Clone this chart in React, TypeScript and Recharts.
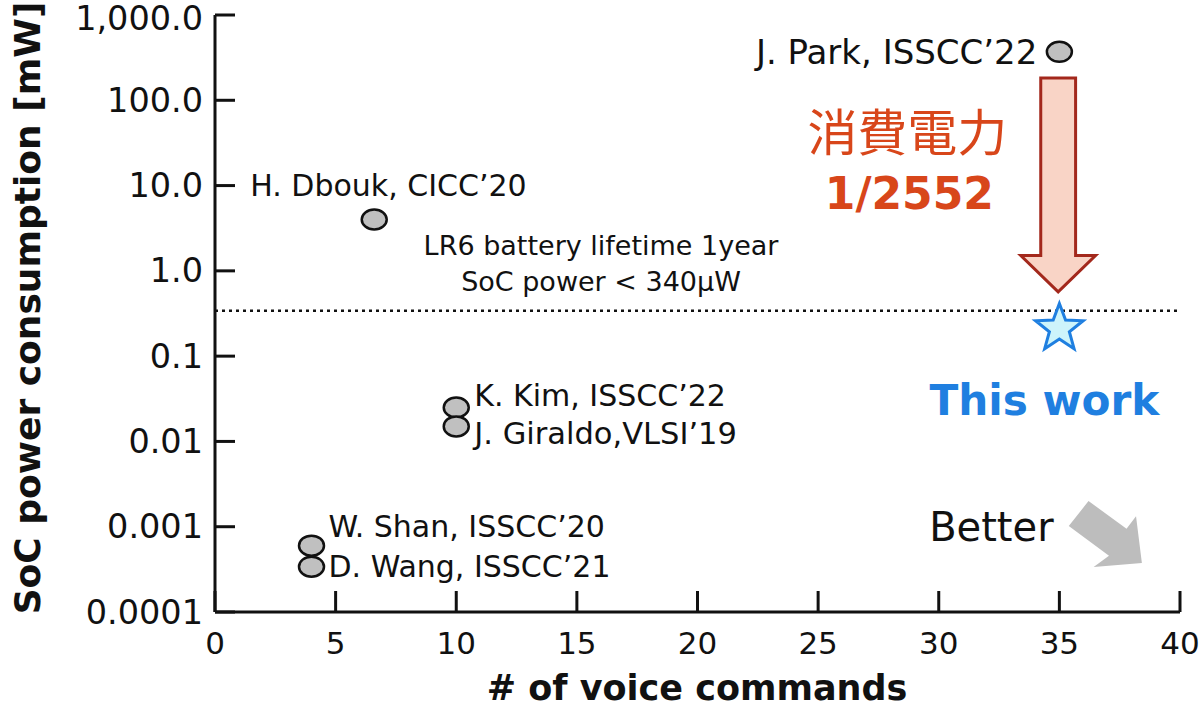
import React from 'react';
import {
  ScatterChart,
  Scatter,
  XAxis,
  YAxis,
  ReferenceLine,
  ReferenceArea,
  ReferenceDot,
} from 'recharts';

// prior works
const refNames = [
  'J. Park, ISSCC’22',
  'H. Dbouk, CICC’20',
  'K. Kim, ISSCC’22',
  'J. Giraldo,VLSI’19',
  'W. Shan, ISSCC’20',
  'D. Wang, ISSCC’21',
];
const refCommands = [35, 6.6, 10, 10, 4, 4];
const refPower = [370, 4.0, 0.025, 0.015, 0.0006, 0.00034];

// this work
const thisCommands = [35];
const thisPower = [0.2];

const batteryLimit = 0.34;

const xTicks = [0, 5, 10, 15, 20, 25, 30, 35, 40];
const yTicks = [0.0001, 0.001, 0.01, 0.1, 1, 10, 100, 1000];
const yTickLabels = ['0.0001', '0.001', '0.01', '0.1', '1.0', '10.0', '100.0', '1,000.0'];

// label placement relative to each marker (px)
const labelStyle = [
  { dx: -22, dy: 0, anchor: 'end', size: 34 },
  { dx: -124, dy: -34, anchor: 'start', size: 30 },
  { dx: 18, dy: -12, anchor: 'start', size: 30 },
  { dx: 18, dy: 7, anchor: 'start', size: 30.5 },
  { dx: 17, dy: -19, anchor: 'start', size: 30 },
  { dx: 17, dy: 0, anchor: 'start', size: 30 },
];

const refData = refNames.map((name, i) => ({ name, x: refCommands[i], y: refPower[i] }));
const thisData = thisCommands.map((x, i) => ({ x, y: thisPower[i] }));

const FONT = '"DejaVu Sans", Verdana, sans-serif';
const INK = '#111';

const Ellipse = (props: any) => (
  <ellipse cx={props.cx} cy={props.cy} rx={12.5} ry={10} fill="#c0c0c0" stroke={INK} strokeWidth={2.5} />
);

const Star = (props: any) => {
  const cx = Number(props.cx);
  const cy = Number(props.cy);
  const pts: string[] = [];
  for (let i = 0; i < 10; i++) {
    const r = i % 2 === 0 ? 25 : 10.5;
    const a = -Math.PI / 2 + (i * Math.PI) / 5;
    pts.push(`${cx + r * Math.cos(a)},${cy - 2 + r * Math.sin(a)}`);
  }
  return <polygon points={pts.join(' ')} fill="#cdf4fb" stroke="#1f7fe0" strokeWidth={3} />;
};

const XTick = (props: any) => {
  const x = Number(props.x);
  const y = Number(props.y);
  return (
    <g>
      <line x1={x} y1={y} x2={x} y2={y - 21} stroke={INK} strokeWidth={3} />
      <text x={x} y={y + 31} textAnchor="middle" dominantBaseline="central" fontSize={31} fill={INK} fontFamily={FONT}>
        {props.payload.value}
      </text>
    </g>
  );
};

const YTick = (props: any) => {
  const x = Number(props.x);
  const y = Number(props.y);
  const idx = yTicks.indexOf(props.payload.value);
  const top = idx === yTicks.length - 1;
  return (
    <g>
      <line x1={x} y1={y} x2={x + 20} y2={y} stroke={INK} strokeWidth={3} />
      <text x={x - 12} y={top ? y + 3 : y} textAnchor="end" dominantBaseline="central" fontSize={33.5} fill={INK} fontFamily={FONT}>
        {idx >= 0 ? yTickLabels[idx] : props.payload.value}
      </text>
    </g>
  );
};

const BigArrow = (props: any) => {
  const x = Number(props.x);
  const y = Number(props.y);
  const width = Number(props.width);
  const height = Number(props.height);
  const shaftL = x + width * 0.267;
  const shaftR = x + width * 0.733;
  const headY = y + height * 0.83;
  const pts = [
    [shaftL, y],
    [shaftR, y],
    [shaftR, headY],
    [x + width, headY],
    [x + width / 2, y + height],
    [x, headY],
    [shaftL, headY],
  ];
  return <polygon points={pts.map((p) => p.join(',')).join(' ')} fill="#f9d4c6" stroke="#a3281c" strokeWidth={3} />;
};

const BetterArrow = (props: any) => {
  const x = Number(props.x);
  const y = Number(props.y);
  const width = Number(props.width);
  const height = Number(props.height);
  const rel = [
    [0.27, 0],
    [0.79, 0.42],
    [0.92, 0.23],
    [1, 0.94],
    [0.34, 1],
    [0.55, 0.83],
    [0, 0.38],
  ];
  return (
    <polygon points={rel.map(([a, b]) => `${x + a * width},${y + b * height}`).join(' ')} fill="#bdbdbd" stroke="none" />
  );
};

export default function App() {
  return (
    <div style={{ position: 'absolute', left: 0, top: 0, background: '#fff' }}>
      <ScatterChart width={1200} height={708} margin={{ top: 15, right: 20, left: 0, bottom: 0 }}>
        <XAxis
          type="number"
          dataKey="x"
          domain={[0, 40]}
          ticks={xTicks}
          interval={0}
          height={96}
          tickSize={0}
          tickMargin={0}
          tickLine={false}
          tick={<XTick />}
          axisLine={{ stroke: INK, strokeWidth: 3 }}
          allowDataOverflow
        />
        <XAxis
          xAxisId="top"
          orientation="top"
          type="number"
          domain={[0, 40]}
          height={0}
          tick={false}
          tickLine={false}
          axisLine={{ stroke: INK, strokeWidth: 3 }}
        />
        <YAxis
          type="number"
          dataKey="y"
          scale="log"
          domain={[0.0001, 1000]}
          ticks={yTicks}
          interval={0}
          width={215}
          tickSize={0}
          tickMargin={0}
          tickLine={false}
          tick={<YTick />}
          axisLine={{ stroke: INK, strokeWidth: 3 }}
          allowDataOverflow
        />
        <YAxis
          yAxisId="right"
          orientation="right"
          type="number"
          domain={[0, 1]}
          width={0}
          tick={false}
          tickLine={false}
          axisLine={{ stroke: INK, strokeWidth: 3 }}
        />
        <ReferenceLine y={batteryLimit} stroke={INK} strokeWidth={2.5} strokeDasharray="3 4" />
        <ReferenceDot
          x={16}
          y={batteryLimit}
          r={0}
          shape={(p: any) => (
            <g fontFamily={FONT} fontSize={27} fill={INK} textAnchor="middle">
              <text x={p.cx} y={p.cy - 65} dominantBaseline="central">LR6 battery lifetime 1year</text>
              <text x={p.cx} y={p.cy - 29} dominantBaseline="central">SoC power &lt; 340μW</text>
            </g>
          )}
        />
        <ReferenceArea x1={33.4} x2={36.5} y1={0.566} y2={182} shape={<BigArrow />} ifOverflow="visible" />
        <ReferenceArea x1={35.39} x2={38.42} y1={0.000338} y2={0.002} shape={<BetterArrow />} ifOverflow="visible" />
        <ReferenceDot
          x={28.7}
          y={41}
          r={0}
          shape={(p: any) => (
            <g fill="#d8461a" textAnchor="middle">
              <text x={p.cx} y={p.cy - 4} dominantBaseline="central" fontSize={50} fontFamily='"Noto Sans CJK JP", sans-serif'>
                消費電力
              </text>
              <text x={p.cx + 2} y={p.cy + 60} dominantBaseline="central" fontSize={44} fontWeight="bold" fontFamily={FONT}>
                1/2552
              </text>
            </g>
          )}
        />
        <ReferenceDot
          x={35}
          y={thisPower[0]}
          r={0}
          shape={(p: any) => (
            <text
              x={p.cx - 15}
              y={p.cy + 70}
              textAnchor="middle"
              dominantBaseline="central"
              fontSize={42}
              fontWeight="bold"
              fill="#1f7fe0"
              fontFamily={FONT}
              textLength={230}
              lengthAdjust="spacingAndGlyphs"
            >
              This work
            </text>
          )}
        />
        <ReferenceDot
          x={35}
          y={0.001}
          r={0}
          shape={(p: any) => (
            <text x={p.cx - 68} y={p.cy} textAnchor="middle" dominantBaseline="central" fontSize={40} fill={INK} fontFamily={FONT}>
              Better
            </text>
          )}
        />
        <Scatter data={refData} shape={<Ellipse />} isAnimationActive={false} />
        <Scatter data={thisData} shape={<Star />} isAnimationActive={false} />
        {refData.map((d, i) => (
          <ReferenceDot
            key={d.name}
            x={d.x}
            y={d.y}
            r={0}
            shape={(p: any) => (
              <text
                x={Number(p.cx) + labelStyle[i].dx}
                y={Number(p.cy) + labelStyle[i].dy}
                textAnchor={labelStyle[i].anchor as any}
                dominantBaseline="central"
                fontSize={labelStyle[i].size}
                fill={INK}
                fontFamily={FONT}
              >
                {d.name}
              </text>
            )}
          />
        ))}
        <text x={697} y={688} textAnchor="middle" dominantBaseline="central" fontSize={35} fontWeight="bold" fill={INK} fontFamily={FONT}>
          # of voice commands
        </text>
        <text
          x={27}
          y={308}
          transform="rotate(-90 27 308)"
          textAnchor="middle"
          dominantBaseline="central"
          fontSize={36}
          fontWeight="bold"
          fill={INK}
          fontFamily={FONT}
        >
          SoC power consumption [mW]
        </text>
      </ScatterChart>
    </div>
  );
}
